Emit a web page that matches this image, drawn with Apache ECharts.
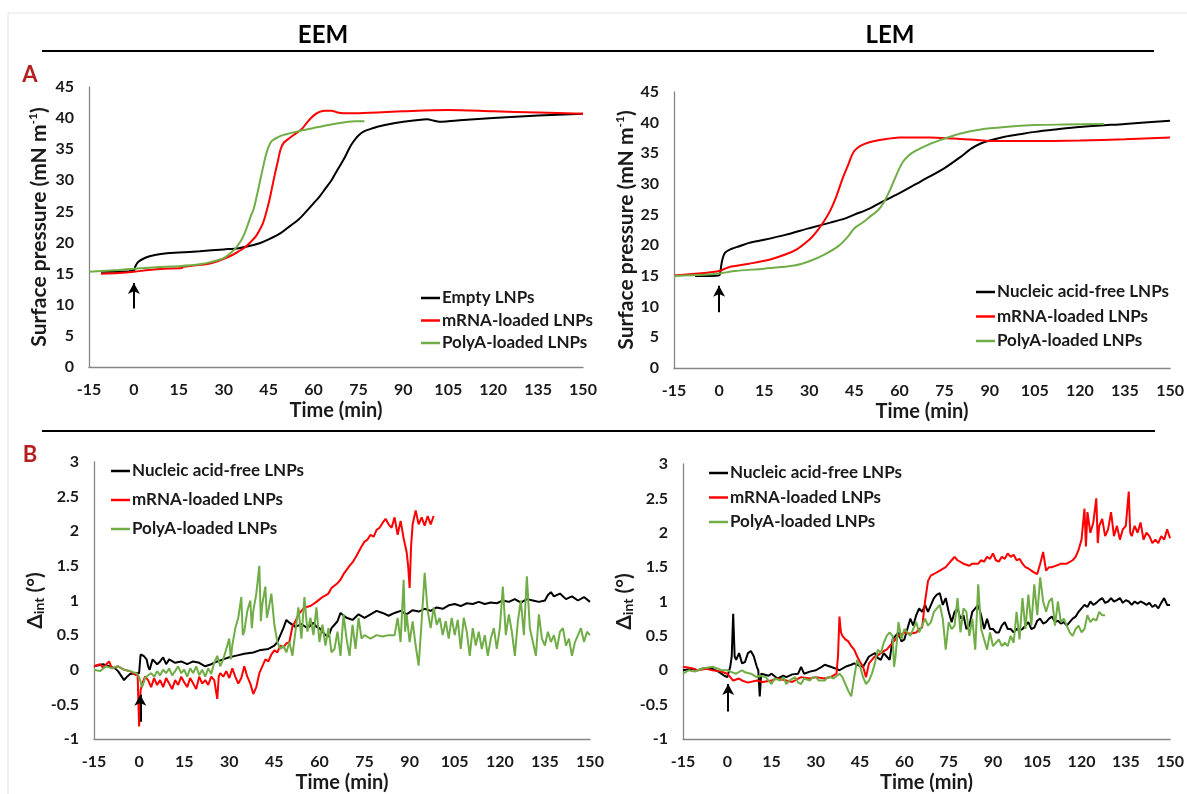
<!DOCTYPE html>
<html>
<head>
<meta charset="utf-8">
<script src="https://cdn.jsdelivr.net/npm/echarts@6/dist/echarts.min.js"></script>
<style>
html,body{margin:0;padding:0;background:#fff;}
#chart{width:1187px;height:794px;}
</style>
</head>
<body>
<div id="chart"></div>
<script>
// ---------- DATA ----------
const columnTitles = ['EEM', 'LEM'];
const panelLetters = ['A', 'B'];
const nameEmpty = 'Empty LNPs';
const nameFree = 'Nucleic acid-free LNPs';
const nameMrna = 'mRNA-loaded LNPs';
const namePolya = 'PolyA-loaded LNPs';
const xTickMin = -15, xTickMax = 150, xTickStep = 15;
const piTicks = [0, 45, 5];
const deltaTicks = [-1, 3, 0.5];

// Panel A, EEM: surface pressure (mN/m) vs time (min)
const eemEmptyPi = [[-11,15.3],[-5,15.3],[0,15.5],[0.5,16.2],[1.5,16.9],[4,17.6],[7,18.0],[11,18.3],[15,18.4],[22,18.6],[30,18.9],[35,19.1],[38,19.4],[42,19.9],[45,20.5],[49,21.5],[52,22.6],[55,23.7],[57,24.7],[60,26.3],[62,27.4],[64,28.7],[66,30.0],[68,31.7],[70,33.3],[72,35.2],[73,36.0],[75,37.2],[77,37.9],[80,38.4],[82,38.7],[86,39.1],[90,39.4],[95,39.7],[98,39.8],[100,39.6],[102,39.4],[105,39.5],[110,39.7],[120,40.0],[135,40.4],[150,40.7]];
const eemMrnaPi = [[-11,15.0],[-5,15.1],[0,15.3],[5,15.6],[10,15.8],[16,15.9],[16.5,16.1],[20,16.3],[25,16.6],[28,17.0],[30,17.4],[32,17.8],[35,18.6],[37,19.2],[39,20.1],[41,21.2],[43,23.0],[44,24.5],[45,26.3],[46,28.5],[47,30.8],[48,32.9],[49,35.0],[50,36.0],[52,36.8],[54,37.5],[56,38.2],[58,39.4],[60,40.4],[62,41.0],[64,41.2],[66,41.2],[68,40.9],[70,40.8],[75,40.8],[90,41.1],[105,41.3],[120,41.1],[135,40.9],[150,40.7]];
const eemPolyaPi = [[-15,15.3],[-5,15.6],[0,15.8],[10,16.1],[15,16.2],[22,16.5],[26,16.9],[30,17.5],[32,18.2],[34,19.1],[36,20.5],[37,21.5],[38,22.8],[39,24.2],[40,25.4],[41,27.4],[42,29.6],[43,31.8],[44,33.9],[45,35.4],[46,36.3],[48,36.9],[50,37.3],[55,37.9],[60,38.4],[65,38.9],[70,39.3],[74,39.5],[77,39.5]];

// Panel A, LEM
const lemFreePi = [[-8,15.0],[-3,15.0],[0,15.1],[0.5,16.0],[1,17.5],[2,18.8],[4,19.4],[7,19.9],[10,20.4],[15,20.9],[22,21.7],[30,22.8],[37,23.7],[42,24.4],[45,25.0],[50,26.0],[55,27.3],[60,28.5],[67,30.4],[75,32.6],[80,34.3],[84,35.8],[87,36.6],[90,37.1],[95,37.7],[100,38.1],[105,38.5],[112,38.9],[120,39.3],[135,39.8],[150,40.3]];
const lemMrnaPi = [[-15,15.1],[-5,15.5],[0,15.8],[3,16.4],[10,17.0],[17,17.7],[22,18.5],[26,19.4],[29,20.5],[31,21.4],[33,22.6],[35,24.0],[37,25.7],[39,28.0],[41,30.8],[43,33.2],[44,34.5],[45,35.4],[47,36.2],[50,36.8],[55,37.3],[60,37.6],[70,37.6],[78,37.4],[85,37.2],[90,37.0],[105,37.0],[120,37.1],[135,37.3],[150,37.6]];
const lemPolyaPi = [[-15,15.0],[-5,15.2],[0,15.4],[5,15.8],[15,16.2],[25,16.7],[30,17.4],[35,18.5],[40,20.0],[43,21.5],[45,22.8],[48,23.8],[50,24.6],[53,25.8],[55,27.2],[57,29.2],[59,31.5],[61,33.5],[63,34.6],[65,35.3],[70,36.5],[75,37.4],[80,38.2],[87,38.9],[95,39.3],[105,39.6],[115,39.7],[128,39.8]];

// Panel B, EEM: delta_int (deg) vs time (min)
const eemFreeD = [[-15,0.05],[-12,0.08],[-10,0.05],[-8,0.02],[-7,-0.02],[-5,-0.15],[-4,-0.1],[-3,-0.06],[-1,-0.05],[0,-0.05],[0.5,0.22],[1.5,0.2],[2.5,0.15],[3,0.05],[3.5,0.0],[4.5,0.15],[6,0.08],[7,0.12],[8,0.18],[9,0.08],[10,0.15],[12,0.1],[14,0.12],[16,0.08],[18,0.12],[20,0.1],[22,0.05],[24,0.08],[26,0.12],[28,0.15],[30,0.18],[32,0.2],[35,0.23],[38,0.25],[40,0.28],[43,0.3],[45,0.35],[46,0.4],[47,0.5],[48,0.6],[49,0.72],[50,0.68],[52,0.62],[54,0.66],[56,0.6],[58,0.68],[59,0.62],[60,0.6],[61,0.55],[62,0.5],[63,0.48],[64,0.6],[65,0.65],[66,0.7],[67,0.82],[69,0.75],[71,0.72],[73,0.8],[75,0.75],[77,0.8],[79,0.85],[81,0.82],[83,0.78],[85,0.82],[87,0.85],[89,0.8],[91,0.86],[93,0.84],[95,0.88],[97,0.85],[99,0.9],[101,0.88],[103,0.93],[105,0.95],[107,0.92],[109,0.96],[111,0.95],[113,0.98],[115,0.95],[117,0.97],[119,0.96],[121,1.0],[123,0.98],[125,1.02],[127,0.97],[129,1.02],[131,1.0],[133,0.98],[135,1.0],[136,1.08],[137,1.12],[138,1.06],[140,1.1],[142,1.02],[144,1.06],[146,1.0],[148,1.05],[150,0.98]];
const eemMrnaD = [[-15,0.05],[-13,0.08],[-12,0.03],[-10,0.12],[-9,0.02],[-7,0.05],[-5,0.0],[-3,-0.02],[-1,-0.08],[-0.5,-0.05],[0,-0.82],[0.5,-0.3],[1,-0.2],[2,-0.1],[3,-0.15],[4,-0.25],[5,-0.12],[6,-0.22],[7,-0.15],[8,-0.25],[9,-0.12],[10,-0.2],[11,-0.28],[12,-0.15],[13,-0.22],[14,-0.1],[15,-0.18],[16,-0.25],[17,-0.12],[18,-0.2],[19,-0.28],[20,-0.1],[21,-0.2],[22,-0.15],[23,-0.22],[24,-0.1],[25,-0.15],[26,-0.42],[26.5,-0.1],[27,-0.05],[28,-0.1],[29,-0.02],[30,-0.12],[31,0.02],[32,-0.1],[33,-0.2],[34,-0.12],[35,0.05],[36,-0.1],[37,-0.2],[38,-0.35],[39,-0.25],[40,-0.05],[41,0.05],[42,0.15],[43,0.12],[44,0.22],[45,0.28],[46,0.25],[47,0.35],[48,0.32],[49,0.38],[50,0.4],[51,0.62],[52,0.7],[53,0.8],[54,0.85],[55,0.9],[57,0.92],[59,0.98],[61,1.05],[63,1.1],[64,1.18],[66,1.25],[67,1.3],[68,1.38],[70,1.5],[71,1.55],[72,1.62],[73,1.7],[74,1.78],[75,1.85],[76,1.88],[77,1.95],[78,1.92],[79,2.02],[80,2.05],[81,2.12],[82,2.18],[83,2.1],[84,2.05],[85,2.2],[86,1.95],[87,2.15],[88,1.9],[89,1.7],[89.5,1.5],[90,1.18],[90.5,1.8],[91,2.1],[92,2.3],[93,2.1],[94,2.2],[95,2.08],[96,2.22],[97,2.1],[98,2.22]];
const eemPolyaD = [[-15,0.0],[-13,-0.02],[-11,0.05],[-9,0.02],[-7,0.05],[-5,0.0],[-3,-0.02],[-1,-0.05],[0,-0.1],[1,-0.25],[2,-0.12],[3,-0.08],[4,-0.05],[5,-0.1],[6,-0.02],[7,-0.08],[8,0.0],[9,-0.05],[10,0.02],[11,-0.08],[12,-0.02],[13,0.05],[14,-0.05],[15,0.0],[16,-0.1],[17,0.02],[18,-0.05],[19,0.05],[20,-0.08],[21,0.0],[22,-0.1],[23,0.02],[24,-0.06],[25,0.1],[26,0.2],[27,0.05],[28,0.15],[29,0.3],[30,0.45],[30.5,0.15],[31,0.35],[32,0.6],[33,0.75],[34,1.05],[34.5,0.5],[35,0.55],[36,0.85],[37,1.0],[37.5,0.6],[38,0.85],[39,1.1],[40,1.5],[40.5,0.7],[41,0.95],[42,1.2],[42.5,0.75],[43,0.85],[44,1.1],[45,0.65],[46,0.4],[47,0.3],[48,0.35],[49,0.25],[50,0.4],[51,0.2],[52,0.55],[53,0.9],[54,0.45],[55,1.05],[56,0.55],[57,0.75],[58,0.5],[59,0.9],[60,0.4],[61,0.65],[62,0.35],[63,0.6],[64,0.25],[65,0.3],[66,0.55],[67,0.2],[68,0.8],[69,0.45],[70,0.2],[71,0.65],[72,0.3],[73,0.75],[74,0.45],[75,0.5],[77,0.45],[79,0.5],[81,0.48],[83,0.5],[85,0.5],[86,0.75],[87,0.4],[88,1.3],[88.5,0.55],[89,0.8],[90,0.4],[91,0.7],[92,0.35],[93,0.06],[94,0.7],[95,1.4],[96,0.85],[97,0.6],[98,0.9],[99,0.65],[100,0.75],[101,0.5],[102,0.7],[103,0.45],[104,0.75],[105,0.5],[106,0.72],[107,0.3],[108,0.75],[109,0.55],[110,0.2],[111,0.6],[112,0.35],[113,0.55],[114,0.3],[115,0.5],[116,0.2],[117,0.45],[118,0.6],[119,0.3],[120,0.6],[121,1.2],[122,0.5],[123,0.8],[124,0.55],[125,0.2],[126,0.7],[127,1.0],[128,0.5],[129,1.35],[130,0.6],[131,0.4],[132,0.2],[133,0.8],[134,0.45],[135,0.35],[136,0.55],[137,0.4],[138,0.5],[139,0.3],[140,0.55],[141,0.6],[142,0.35],[143,0.45],[144,0.2],[145,0.4],[146,0.5],[147,0.6],[148,0.4],[149,0.55],[150,0.5]];

// Panel B, LEM
const lemFreeD = [[-15,0.0],[-12,0.02],[-10,0.0],[-8,0.03],[-5,0.02],[-3,-0.02],[-2,-0.05],[-1,-0.08],[0,-0.1],[1,0.05],[1.5,0.2],[2,0.82],[2.5,0.2],[3,0.15],[4,0.25],[5,0.1],[6,0.12],[7,0.25],[8,0.28],[9,0.2],[10,0.05],[10.5,0.0],[11,-0.38],[11.5,-0.05],[12,-0.05],[14,-0.08],[15,-0.05],[17,-0.12],[19,-0.08],[20,-0.1],[22,-0.06],[24,-0.05],[25,0.05],[26,-0.05],[28,-0.02],[30,0.0],[32,0.05],[33,0.08],[35,0.05],[37,0.02],[38,0.0],[40,0.05],[42,0.08],[43,0.1],[45,0.06],[46,0.05],[48,0.2],[50,0.25],[51,0.18],[52,0.15],[53,0.25],[54,0.2],[55,0.15],[56,0.45],[57,0.5],[58,0.55],[59,0.42],[60,0.45],[61,0.6],[62,0.75],[63,0.65],[64,0.8],[65,0.9],[66,0.85],[67,0.95],[68,0.85],[69,0.95],[70,1.05],[71,1.1],[72,1.12],[73,0.95],[74,1.05],[75,0.85],[76,0.7],[77,0.85],[78,0.9],[79,0.75],[80,0.8],[81,0.6],[82,0.65],[83,0.85],[84,0.9],[85,0.95],[86,0.8],[87,0.6],[88,0.75],[89,0.6],[90,0.6],[91,0.55],[92,0.55],[93,0.65],[94,0.7],[95,0.6],[96,0.6],[97,0.55],[98,0.6],[99,0.58],[100,0.6],[101,0.65],[102,0.7],[103,0.6],[104,0.62],[105,0.72],[106,0.75],[107,0.68],[108,0.7],[109,0.75],[110,0.78],[111,0.7],[112,0.72],[113,0.68],[114,0.7],[115,0.65],[116,0.7],[117,0.75],[118,0.78],[119,0.85],[120,0.9],[121,0.95],[122,0.92],[123,1.0],[124,0.95],[125,0.98],[126,1.02],[127,1.05],[128,0.98],[129,1.0],[130,1.05],[131,1.0],[132,1.02],[133,1.05],[134,0.98],[135,1.02],[136,1.0],[137,0.95],[138,1.0],[139,0.97],[140,1.0],[141,0.98],[142,0.95],[143,0.98],[144,0.92],[145,0.95],[146,0.9],[147,0.98],[148,1.05],[149,0.95],[150,0.95]];
const lemMrnaD = [[-15,0.05],[-12,0.03],[-10,0.0],[-7,0.02],[-5,0.0],[-2,-0.02],[0,-0.05],[1,-0.1],[2,-0.15],[4,-0.12],[5,-0.15],[7,-0.18],[10,-0.15],[12,-0.17],[15,-0.15],[17,-0.12],[20,-0.15],[22,-0.17],[25,-0.1],[28,-0.12],[30,-0.1],[33,-0.12],[35,-0.1],[37,-0.05],[37.5,0.2],[38,0.78],[38.5,0.55],[39,0.5],[40,0.45],[41,0.42],[42,0.35],[43,0.3],[44,0.2],[45,0.12],[46,0.05],[47,-0.1],[48,0.1],[49,0.15],[50,0.2],[51,0.22],[52,0.25],[53,0.28],[54,0.3],[55,0.35],[56,0.4],[57,0.45],[58,0.5],[59,0.52],[60,0.55],[62,0.53],[64,0.55],[65,0.6],[66,0.62],[67,1.0],[68,1.3],[69,1.38],[70,1.4],[72,1.45],[74,1.5],[75,1.55],[76,1.6],[77,1.65],[78,1.6],[80,1.55],[82,1.52],[83,1.55],[85,1.55],[86,1.6],[87,1.58],[88,1.65],[89,1.62],[90,1.7],[91,1.6],[92,1.58],[93,1.65],[94,1.62],[95,1.7],[96,1.65],[97,1.68],[98,1.6],[99,1.62],[100,1.55],[101,1.5],[102,1.48],[103,1.45],[104,1.42],[105,1.4],[106,1.55],[107,1.72],[108,1.45],[109,1.5],[110,1.5],[112,1.53],[113,1.55],[115,1.55],[117,1.6],[118,1.65],[119,1.75],[120,1.9],[121,2.35],[121.5,1.8],[122,2.3],[123,2.0],[124,2.15],[125,2.5],[125.5,1.85],[126,2.1],[127,2.2],[128,1.95],[129,2.05],[130,2.3],[131,1.95],[132,2.1],[133,1.9],[134,2.05],[135,2.1],[136,2.6],[136.5,2.0],[137,1.95],[138,2.1],[139,2.0],[140,2.15],[141,1.9],[142,2.0],[143,1.95],[144,1.85],[145,1.9],[146,1.85],[147,1.95],[148,1.9],[149,2.05],[150,1.92]];
const lemPolyaD = [[-15,-0.05],[-13,0.0],[-11,-0.02],[-10,0.0],[-8,0.03],[-5,0.05],[-3,0.02],[-2,0.0],[0,0.0],[1,-0.02],[3,-0.05],[5,0.0],[6,-0.03],[8,-0.05],[10,-0.1],[11,-0.08],[13,-0.1],[14,-0.15],[15,-0.2],[16,-0.12],[18,-0.15],[19,-0.1],[20,-0.2],[21,-0.15],[23,-0.1],[24,-0.18],[25,-0.2],[26,-0.12],[28,-0.15],[29,-0.1],[30,-0.1],[31,-0.15],[33,-0.15],[34,-0.1],[35,-0.1],[36,-0.12],[38,-0.05],[39,-0.1],[40,-0.2],[41,-0.3],[42,-0.38],[43,-0.1],[44,0.15],[45,0.05],[46,-0.1],[47,-0.2],[48,-0.15],[49,-0.05],[50,0.1],[51,0.3],[52,0.25],[53,0.4],[54,0.5],[55,0.55],[56,0.5],[56.5,0.05],[57,0.2],[58,0.7],[59,0.45],[60,0.6],[61,0.55],[62,0.5],[63,0.6],[64,0.7],[65,0.55],[66,0.65],[67,0.75],[68,0.65],[69,0.7],[70,0.85],[71,0.9],[72,0.95],[73,0.75],[74,0.3],[75,0.7],[76,0.6],[77,0.65],[78,1.05],[79,0.55],[80,0.9],[81,0.85],[82,0.5],[83,0.75],[84,0.3],[85,1.25],[86,0.6],[87,0.45],[88,0.3],[89,0.55],[90,0.35],[91,0.4],[92,0.45],[93,0.35],[94,0.4],[95,0.35],[96,0.5],[97,0.4],[98,0.85],[99,0.45],[100,1.05],[101,0.6],[102,1.1],[103,0.65],[104,1.25],[105,0.8],[106,1.35],[107,1.0],[108,0.85],[109,1.0],[110,1.05],[111,0.65],[112,1.0],[113,0.7],[114,0.75],[115,0.65],[116,0.55],[117,0.5],[118,0.6],[119,0.65],[120,0.55],[121,0.6],[122,0.8],[123,0.7],[124,0.75],[125,0.72],[126,0.85],[127,0.8],[128,0.8]];

// Arrows marking the injection time: [time, from value, to value]
const eemArrowPi = [0, 9.4, 13.5];
const lemArrowPi = [0, 9.1, 13.4];
const eemArrowD = [0.4, -0.75, -0.36];
const lemArrowD = [0.3, -0.6, -0.2];

// ---------- STYLE / LAYOUT ----------
const FONT = 'Lato, "Open Sans", "DejaVu Sans", sans-serif';
const TXT = '#1a1a1a';
const C_BLACK = '#000000', C_RED = '#ff0000', C_GREEN = '#70ad47';
const AXIS_C = '#868686';

const grids = [
  {left: 89,  top: 87,  width: 494, height: 280},
  {left: 674, top: 92,  width: 498, height: 276},
  {left: 94,  top: 462, width: 496, height: 280},
  {left: 683, top: 464, width: 490, height: 275}
];

function makeX(gi) {
  return {
    type: 'value', gridIndex: gi, min: xTickMin, max: xTickMax, interval: xTickStep,
    name: 'Time (min)', nameLocation: 'middle', nameGap: 34,
    nameTextStyle: {fontFamily: FONT, fontWeight: 'bold', fontSize: 20, color: TXT},
    axisLine: {show: true, onZero: false, lineStyle: {color: AXIS_C, width: 1.3}},
    axisTick: {show: false}, splitLine: {show: false},
    axisLabel: {fontFamily: FONT, fontWeight: 'bold', fontSize: 16, color: TXT, margin: 15}
  };
}
function makeY(gi, ticks, name, rich, gap) {
  return {
    type: 'value', gridIndex: gi, min: ticks[0], max: ticks[1], interval: ticks[2],
    name: name, nameLocation: 'middle', nameRotate: 90, nameGap: gap,
    nameTextStyle: {fontFamily: FONT, fontWeight: 'bold', fontSize: 20, color: TXT, rich: rich},
    axisLine: {show: true, onZero: false, lineStyle: {color: AXIS_C, width: 1.3}},
    axisTick: {show: false}, splitLine: {show: false},
    axisLabel: {fontFamily: FONT, fontWeight: 'bold', fontSize: 16, color: TXT, margin: 15}
  };
}
const piRich = {
  a: {fontFamily: FONT, fontWeight: 'bold', fontSize: 21, color: TXT},
  s: {fontFamily: FONT, fontWeight: 'bold', fontSize: 12, color: TXT, padding: [0, 0, 12, 0]}
};
const dRich = {
  a: {fontFamily: FONT, fontWeight: 'bold', fontSize: 21, color: TXT},
  s: {fontFamily: FONT, fontWeight: 'bold', fontSize: 14, color: TXT, padding: [10, 0, 0, 0]}
};
const piName = '{a|Surface pressure (mN m}{s|-1}{a|)}';
const dName = '{a|Δ}{s|int}{a| (°)}';

function arrowMark(a) {
  return {
    silent: true, symbol: ['none', 'arrow'], symbolSize: [9, 11],
    lineStyle: {color: '#000', width: 2, type: 'solid'},
    label: {show: false}, animation: false,
    data: [[{coord: [a[0], a[1]]}, {coord: [a[0], a[2]]}]]
  };
}
function line(name, data, gi, color, smooth, width, arrow) {
  const s = {
    type: 'line', name: name, data: data, xAxisIndex: gi, yAxisIndex: gi,
    showSymbol: false, symbol: 'none', smooth: smooth, color: color,
    lineStyle: {color: color, width: width}, itemStyle: {color: color},
    z: 3
  };
  if (arrow) s.markLine = arrowMark(arrow);
  return s;
}
function legend(names, left, top, gap) {
  return {
    orient: 'vertical', left: left, top: top, itemGap: gap,
    icon: 'rect', itemWidth: 19, itemHeight: 2.5,
    itemStyle: {borderWidth: 0},
    selectedMode: false, data: names,
    textStyle: {fontFamily: FONT, fontWeight: 'bold', fontSize: 17, color: TXT, lineHeight: 18, padding: [0, 0, 0, -3]}
  };
}

const chart = echarts.init(document.getElementById('chart'), null, {renderer: 'canvas'});
const option = {
  animation: false,
  backgroundColor: '#ffffff',
  grid: grids,
  xAxis: [makeX(0), makeX(1), makeX(2), makeX(3)],
  yAxis: [
    makeY(0, piTicks, piName, piRich, 38),
    makeY(1, piTicks, piName, piRich, 36),
    makeY(2, deltaTicks, dName, dRich, 34),
    makeY(3, deltaTicks, dName, dRich, 36)
  ],
  legend: [
    legend([nameEmpty, nameMrna, namePolya], 416, 284, 4.5),
    legend([nameFree, nameMrna, namePolya], 971, 278, 6.5),
    legend([nameFree, nameMrna, namePolya], 106, 457, 11),
    legend([nameFree, nameMrna, namePolya], 704, 459, 6.5)
  ],
  graphic: [
    {type: 'rect', silent: true, shape: {x: 8, y: 13, width: 1200, height: 800}, style: {fill: 'none', stroke: '#e3e3e3', lineWidth: 1}},
    {type: 'line', silent: true, shape: {x1: 42, y1: 51, x2: 1154, y2: 51}, style: {stroke: '#000', lineWidth: 2}},
    {type: 'line', silent: true, shape: {x1: 42, y1: 431, x2: 1155, y2: 431}, style: {stroke: '#000', lineWidth: 2}},
    {type: 'text', silent: true, x: 323, y: 35, style: {text: columnTitles[0], fontFamily: FONT, fontWeight: 'bold', fontSize: 24, fill: '#000', align: 'center', verticalAlign: 'middle'}},
    {type: 'text', silent: true, x: 890, y: 35, style: {text: columnTitles[1], fontFamily: FONT, fontWeight: 'bold', fontSize: 24, fill: '#000', align: 'center', verticalAlign: 'middle'}},
    {type: 'text', silent: true, x: 30, y: 75, style: {text: panelLetters[0], fontFamily: FONT, fontWeight: 'bold', fontSize: 22, fill: '#b41f1f', align: 'center', verticalAlign: 'middle'}},
    {type: 'text', silent: true, x: 30, y: 455, style: {text: panelLetters[1], fontFamily: FONT, fontWeight: 'bold', fontSize: 22, fill: '#b41f1f', align: 'center', verticalAlign: 'middle'}}
  ],
  series: [
    line(nameEmpty, eemEmptyPi, 0, C_BLACK, 0.3, 2, eemArrowPi),
    line(nameMrna, eemMrnaPi, 0, C_RED, 0.3, 2),
    line(namePolya, eemPolyaPi, 0, C_GREEN, 0.3, 2),
    line(nameFree, lemFreePi, 1, C_BLACK, 0.3, 2, lemArrowPi),
    line(nameMrna, lemMrnaPi, 1, C_RED, 0.3, 2),
    line(namePolya, lemPolyaPi, 1, C_GREEN, 0.3, 2),
    line(nameFree, eemFreeD, 2, C_BLACK, false, 2, eemArrowD),
    line(nameMrna, eemMrnaD, 2, C_RED, false, 2),
    line(namePolya, eemPolyaD, 2, C_GREEN, false, 2),
    line(nameFree, lemFreeD, 3, C_BLACK, false, 2, lemArrowD),
    line(nameMrna, lemMrnaD, 3, C_RED, false, 2),
    line(namePolya, lemPolyaD, 3, C_GREEN, false, 2)
  ]
};
chart.setOption(option);
</script>
</body>
</html>
